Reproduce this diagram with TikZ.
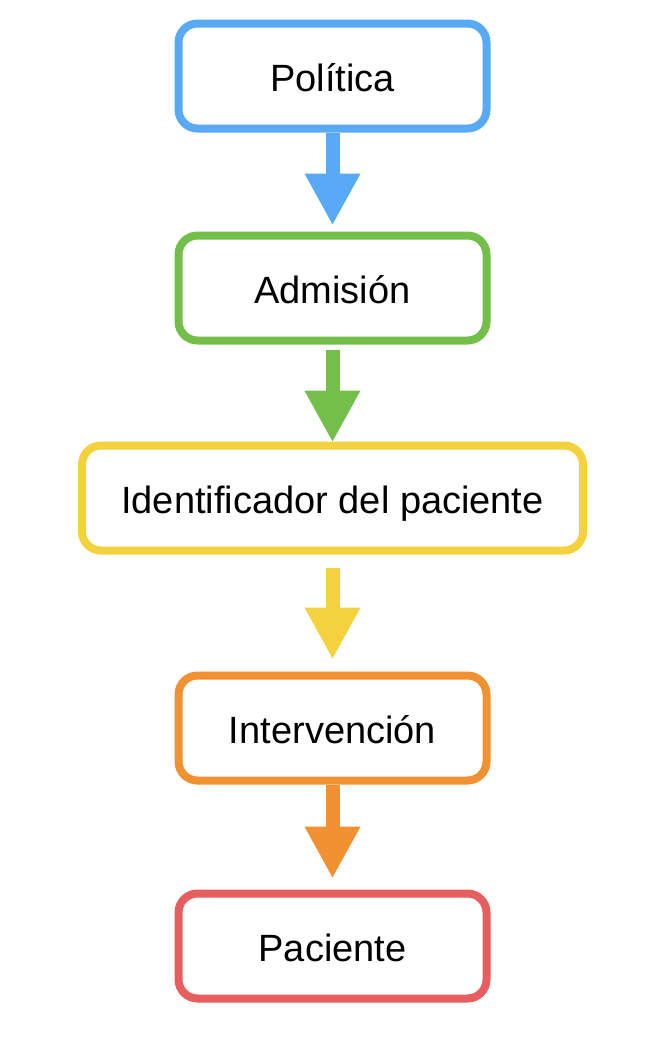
\documentclass[tikz,border=0pt]{standalone}
\usepackage{fontspec}
\setmainfont{Liberation Sans}
\usepackage{tikz}
\usetikzlibrary{arrows.meta}
\pgfdeclarelayer{edgelayer}
\pgfdeclarelayer{nodelayer}
\pgfsetlayers{edgelayer,nodelayer,main}
\definecolor{polblue}{RGB}{88,170,246}
\definecolor{admgreen}{RGB}{116,190,74}
\definecolor{ideyellow}{RGB}{244,210,62}
\definecolor{intorange}{RGB}{241,145,50}
\definecolor{pacred}{RGB}{232,93,93}
\tikzstyle{stage}=[rectangle,rounded corners=19pt,line width=8pt,fill=white,minimum width=308pt,minimum height=105pt,inner sep=0pt,text height=30pt,text depth=0pt,font=\fontsize{38}{45}\selectfont]
\tikzstyle{flow}=[-{Triangle[width=52pt,length=52pt]},line width=14pt]

\begin{document}
\begin{tikzpicture}[x=1pt,y=-1pt]
	\useasboundingbox (0,0) rectangle (668,1050);
	\begin{pgfonlayer}{nodelayer}
		\node [style=stage, draw=polblue] (pol) at (332.5, 76) {Política};
		\node [style=stage, draw=admgreen] (adm) at (332.5, 288) {Admisión};
		\node [style=stage, draw=ideyellow, minimum width=501pt] (ide) at (332.5, 498) {Identificador del paciente};
		\node [style=stage, draw=intorange] (int) at (332.5, 728) {Intervención};
		\node [style=stage, draw=pacred] (pac) at (332.5, 946) {Paciente};
	\end{pgfonlayer}
	\begin{pgfonlayer}{edgelayer}
		\draw [style=flow, polblue] (pol.south) -- ([yshift=6pt]adm.north);
		\draw [style=flow, admgreen] ([yshift=-5pt]adm.south) -- ([yshift=-1pt]ide.north);
		\draw [style=flow, ideyellow] ([yshift=-13pt]ide.south) -- ([yshift=12pt]int.north);
		\draw [style=flow, intorange] (int.south) -- ([yshift=11pt]pac.north);
	\end{pgfonlayer}
\end{tikzpicture}
\end{document}
